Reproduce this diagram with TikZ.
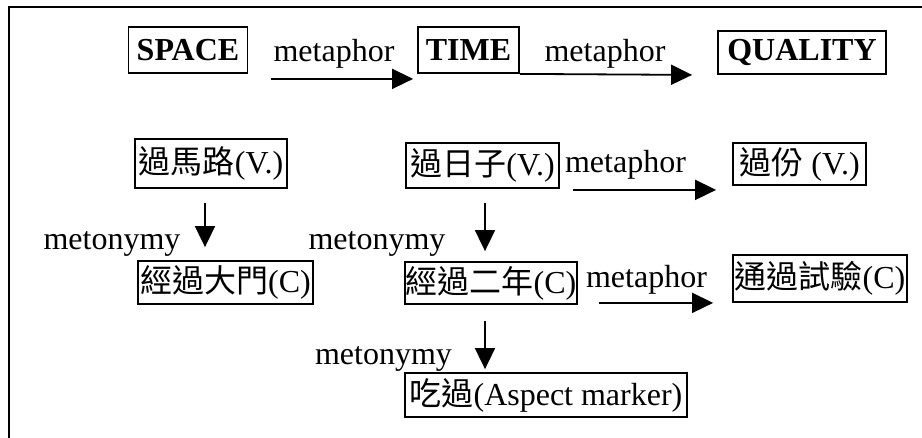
\documentclass[tikz,border=0pt]{standalone}
\usepackage{fontspec}
\setmainfont{Liberation Serif}
\newfontfamily\cjk{Noto Sans CJK TC}
\usepackage{tikz}
\usetikzlibrary{positioning}
\usetikzlibrary{arrows.meta}
\newcommand{\bigtext}{\fontsize{32}{38}\selectfont}
\tikzstyle{dom}=[draw,line width=1.8pt,inner sep=0pt,minimum height=46pt,font=\bigtext\bfseries]
\tikzstyle{ex}=[draw,line width=1.8pt,inner sep=0pt,font=\bigtext]
\tikzstyle{lbl}=[anchor=base,inner sep=0pt,font=\bigtext]
\tikzstyle{flow}=[line width=1.8pt,-{Triangle[length=21pt,width=20pt]}]

\begin{document}
\begin{tikzpicture}[x=1pt,y=-1pt]
	
	\useasboundingbox (0,0) rectangle (922,438);
	
	% frame
	\draw[line width=2pt] (922,7) -- (9,7) -- (9,438);
	
	% domains
	\node [dom, minimum width=119pt] (space) at (188,50) {SPACE};
	\node [dom, minimum width=101pt] (time) at (468.5,50) {TIME};
	\node [dom, minimum width=168pt, minimum height=43pt] (quality) at (802,52.5) {QUALITY};
	
	% examples
	\node [ex, minimum width=152pt, minimum height=49pt] (road) at (211,163.5) {{\cjk 過馬路}(V.)};
	\node [ex, minimum width=153pt, minimum height=45pt] (days) at (482.5,165.5) {{\cjk 過日子}(V.)};
	\node [ex, minimum width=133pt, minimum height=42pt] (excess) at (799.5,164) {{\cjk 過份} (V.)};
	
	\node [ex, minimum width=175pt, minimum height=43pt] (gate) at (225.5,282.5) {{\cjk 經過大門}(C)};
	\node [ex, minimum width=172pt, minimum height=42pt] (years) at (491,283) {{\cjk 經過二年}(C)};
	\node [ex, minimum width=174pt, minimum height=47pt] (exam) at (820,278.5) {{\cjk 通過試驗}(C)};
	
	\node [ex, minimum width=282pt, minimum height=44pt] (aspect) at (546,395) {{\cjk 吃過}(Aspect marker)};
	
	% labels
	\node [lbl] (meta1) at (334,62) {metaphor};
	\node [lbl] (meta2) at (605,62) {metaphor};
	\node [lbl] (meta3) at (625.5,173) {metaphor};
	\node [lbl] (meta4) at (646.5,288) {metaphor};
	
	\node [lbl] (meto1) at (112,250) {metonymy};
	\node [lbl] (meto2) at (377,250) {metonymy};
	\node [lbl] (meto3) at (383.5,365) {metonymy};
	
	% metaphor arrows
	\draw[flow] ([xshift=23pt,yshift=-5pt]space.south east) -- ([xshift=-4pt,yshift=-5pt]time.south west);
	\draw[flow] (time.south east) -- ([xshift=-25pt]quality.south west);
	\draw[flow] ([xshift=13pt,yshift=-1pt]days.south east) -- ([xshift=-16pt,yshift=-4pt]excess.south west);
	\draw[flow] ([xshift=21pt,yshift=2pt]years.south east) -- ([xshift=-19pt]exam.south west);
	
	% metonymy arrows
	\draw[flow] ([xshift=-6pt,yshift=-14pt]road.south) -- ([xshift=-20.5pt,yshift=13pt]gate.north);
	\draw[flow] ([xshift=2.5pt,yshift=-14pt]days.south) -- ([xshift=-6pt,yshift=10pt]years.north);
	\draw[flow] ([xshift=-6pt,yshift=-16pt]years.south) -- ([xshift=-61pt,yshift=3pt]aspect.north);
	
\end{tikzpicture}
\end{document}
